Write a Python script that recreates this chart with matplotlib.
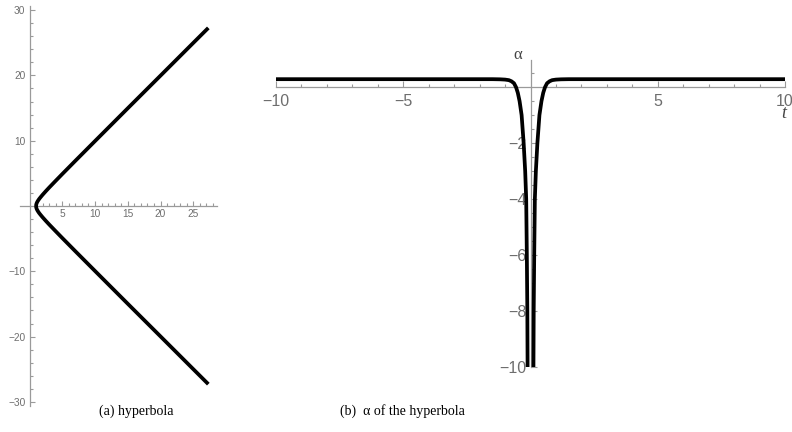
import matplotlib
matplotlib.use("Agg")
import matplotlib.pyplot as plt
from matplotlib.ticker import FixedLocator

# hyperbola, upper branch (x, y); the lower branch is its mirror in y
hyp_x = [1.0, 1.005, 1.02, 1.05, 1.08, 1.13, 1.18, 1.25, 1.3, 1.4, 1.5, 1.7,
         2.0, 2.5, 3.0, 4.0, 5.0, 7.0, 10.0, 15.0, 20.0, 25.0, 27.3]
hyp_y = [0.0, 0.1, 0.2, 0.32, 0.41, 0.53, 0.63, 0.75, 0.83, 0.98, 1.12, 1.37,
         1.73, 2.29, 2.83, 3.87, 4.9, 6.93, 9.95, 14.97, 19.97, 24.98, 27.28]

# alpha(t) for t > 0; the t < 0 half is symmetric
alpha_t = [0.115, 0.125, 0.145, 0.17, 0.21, 0.27, 0.31, 0.35, 0.43, 0.50,
           0.57, 0.65, 0.75, 0.85, 1.0, 1.2, 1.5, 3.0, 10.0]
alpha_v = [-10.0, -8.0, -6.0, -4.0, -3.0, -2.0, -1.5, -1.0, -0.5, -0.2,
           0.0, 0.14, 0.21, 0.25, 0.27, 0.28, 0.285, 0.285, 0.285]

hyp_xticks = [5, 10, 15, 20, 25]
hyp_yticks = [-30, -20, -10, 10, 20, 30]
alpha_xticks = [-10, -5, 5, 10]
alpha_yticks = [-10, -8, -6, -4, -2]

AXIS_GRAY = "#9a9a9a"
LABEL_GRAY = "#6e6e6e"


def style_axes(ax, fsize, major_len, minor_len, xpad, ypad):
    for side in ("top", "right"):
        ax.spines[side].set_visible(False)
    for side in ("left", "bottom"):
        ax.spines[side].set_position(("data", 0))
        ax.spines[side].set_color(AXIS_GRAY)
        ax.spines[side].set_linewidth(0.9)
    ax.tick_params(which="both", direction="in", color=AXIS_GRAY, width=0.8,
                   labelcolor=LABEL_GRAY, labelsize=fsize)
    ax.tick_params(which="major", length=major_len)
    ax.tick_params(which="minor", length=minor_len)
    ax.tick_params(axis="x", pad=xpad)
    ax.tick_params(axis="y", pad=ypad)
    for lab in ax.get_xticklabels() + ax.get_yticklabels():
        lab.set_family("Liberation Sans")
    ax.patch.set_alpha(0)


fig = plt.figure(figsize=(7.92, 4.32), dpi=100)

# (a) hyperbola
ax1 = fig.add_axes([0.0249, 0.0606, 0.2497, 0.925])
ax1.plot(hyp_x, hyp_y, color="black", lw=2.7, solid_capstyle="butt", zorder=5)
ax1.plot(hyp_x, [-v for v in hyp_y], color="black", lw=2.7,
         solid_capstyle="butt", zorder=5)
ax1.set_xlim(-1.5, 28.7)
ax1.set_ylim(-30.6, 30.6)
ax1.xaxis.set_major_locator(FixedLocator(hyp_xticks))
ax1.yaxis.set_major_locator(FixedLocator(hyp_yticks))
ax1.xaxis.set_minor_locator(FixedLocator([v for v in range(1, 29) if v % 5]))
ax1.yaxis.set_minor_locator(FixedLocator([v for v in range(-30, 31, 2)
                                          if v % 10]))
ax1.set_xticklabels([str(v) for v in hyp_xticks])
ax1.set_yticklabels([str(v).replace("-", "\u2212") for v in hyp_yticks])
style_axes(ax1, 7.3, 3.5, 2, 2, 3)

# (b) alpha of the hyperbola
ax2 = fig.add_axes([0.3485, 0.1505, 0.6427, 0.7106])
ax2.plot(alpha_t, alpha_v, color="black", lw=2.7, zorder=5)
ax2.plot([-v for v in alpha_t], alpha_v, color="black", lw=2.7, zorder=5)
ax2.set_xlim(-10, 10)
ax2.set_ylim(-10, 0.97)
ax2.xaxis.set_major_locator(FixedLocator(alpha_xticks))
ax2.yaxis.set_major_locator(FixedLocator(alpha_yticks))
ax2.xaxis.set_minor_locator(FixedLocator([v for v in range(-10, 11)
                                          if v % 5]))
ax2.yaxis.set_minor_locator(FixedLocator([v / 2 for v in range(-20, 2)
                                          if v % 4]))
ax2.set_xticklabels([str(v).replace("-", "\u2212") for v in alpha_xticks])
ax2.set_yticklabels([str(v).replace("-", "\u2212") for v in alpha_yticks])
style_axes(ax2, 11.5, 4, 2.5, 5, 3)
ax2.text(-0.5, 1.15, "\u03b1", fontsize=12, family="Liberation Serif",
         color="#444444", ha="center", va="center", clip_on=False)
ax2.text(9.95, -0.95, "t", fontsize=13, family="Liberation Serif",
         style="italic", color="#444444", ha="center", va="center")

# captions
fig.text(136 / 792, 1 - 411 / 432, "(a) hyperbola", fontsize=10,
         family="Liberation Serif", ha="center", va="center")
fig.text(402 / 792, 1 - 411 / 432, "(b)  \u03b1 of the hyperbola", fontsize=10,
         family="Liberation Serif", ha="center", va="center")

fig.savefig("out.png", dpi=100)
